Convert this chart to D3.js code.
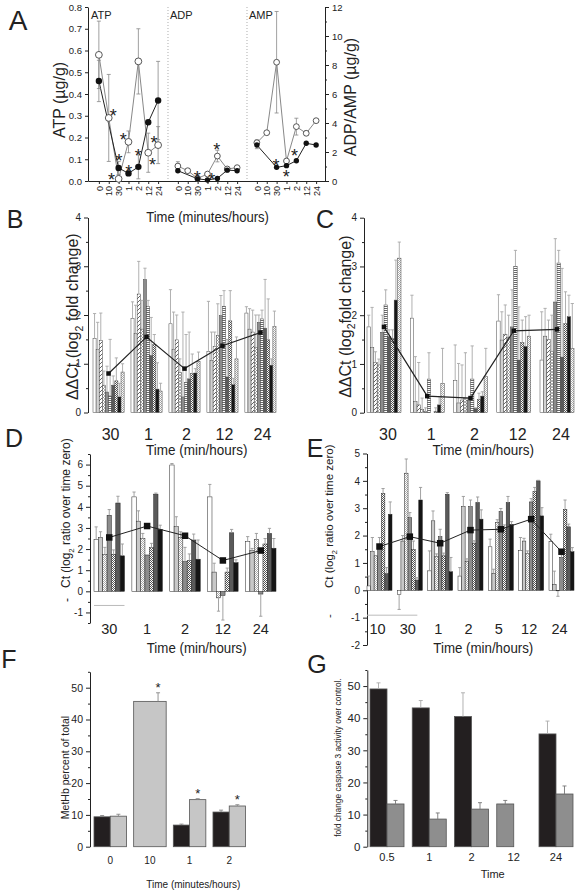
<!DOCTYPE html>
<html><head><meta charset="utf-8">
<script src="https://cdn.jsdelivr.net/npm/d3@7"></script>
<style>body{margin:0;background:#fff}svg{display:block}</style>
</head><body><script>
// ================= DATA =================
// Panel A
const aTimeLabels = ["0","10","30","1","2","12","24"];
const aSegmentNames = ["ATP","ADP","AMP"];
const atpOpen = [0.58,0.29,0.01,0.18,0.55,0.13,0.165];
const atpOpenErr = [0.155,0.2,0,0.05,0.15,0.09,0.085];
const atpFilled = [0.46,null,0.06,0.035,0.065,0.27,0.37];
const atpFilledErr = [0.095,0,0.03,0.01,0.055,0,0.18];
const adpOpen = [1.03,0.71,0.18,0.48,1.72,0.83,0.92];
const adpOpenErr = [0.3,0.12,0.05,0.1,0.4,0.05,0.1];
const adpFilled = [0.71,null,0.15,0.07,0.18,0.75,0.71];
const adpFilledErr = [0,0,0,0,0,0,0];
const ampOpen = [2.64,3.33,8.19,1.38,3.75,3.29,4.16];
const ampOpenErr = [0.2,0,3.5,0.1,0.58,0.15,0.1];
const ampFilled = [2.48,null,0.94,1.06,1.4,2.6,2.48];
const ampFilledErr = [0.25,0,0,0,0,0,0];
const atpStars = [[1.45,0.318],[2.47,0.206],[2.03,0.111],[1.29,0.023],[3.04,0.061],[3.99,0.134],[5.58,0.193],[5.44,0.093]];
const adpStars = [[1.97,0.48],[3.43,0.34],[3.94,2.41]];
const ampStars = [[1.95,1.33],[2.97,0.57],[3.81,2.02]];

// Panel B
const bCats = ["30","1","2","12","24"];
const bValues = [
  [1.52,1.29,1.48,0.56,0.42,0.34,0.56,0.65,0.32,0.83],
  [1.93,1.62,2.43,1.71,2.73,2.17,1.17,1.40,0.48,0.44],
  [1.82,1.29,1.49,0.82,0.32,0.62,0.69,0.80,0.81,1.05],
  [1.25,1.07,1.35,1.58,1.99,2.18,0.73,1.88,0.57,1.10],
  [2.04,1.71,1.65,1.33,1.85,1.92,1.73,1.49,0.97,1.76]];
const bErrors = [
  [0.51,0.56,0.56,0.29,0.53,1.16,0.19,0.47,0.28,0.17],
  [0.34,0.58,0.67,0.59,0.23,0.13,0.78,0.20,0.54,0.16],
  [0.70,0.77,0.51,0.28,1.74,0.98,0.96,0.40,0.09,0.19],
  [1.03,0.58,0.30,0.65,0.41,0.32,0.77,0.62,0.13,0.45],
  [0.13,0.42,0.45,0.67,0.15,0.18,1.00,0.84,0.13,0.32]];
const bMean = [0.80,1.55,0.90,1.37,1.64];

// Panel C
const cCats = ["30","1","2","12","24"];
const cValues = [
  [1.76,1.34,1.03,0.98,1.65,2.21,1.56,1.52,2.31,3.17],
  [1.94,0.23,0.16,0.07,0.02,0.69,0.00,0.03,0.16,0.60],
  [0.66,0.20,0.26,0.30,0.25,0.69,0.09,0.27,0.34,0.74],
  [1.88,1.49,1.61,1.55,1.76,3.00,1.08,1.44,1.36,1.57],
  [1.08,1.57,1.50,1.25,2.27,3.07,1.14,1.83,1.97,1.32]];
const cErrors = [
  [0.24,0.82,0.22,0.12,0.35,0.31,0.14,0.18,0.82,0.33],
  [0.47,0.92,0.87,0.23,0.08,0.54,0.00,0.07,0.17,0.72],
  [0.73,0.81,0.72,0.93,0.05,0.68,0.01,0.13,0.09,0.58],
  [0.54,0.58,0.60,0.45,0.76,0.33,1.09,0.46,0.61,0.43],
  [0.99,0.57,0.40,0.75,1.30,0.26,1.82,0.65,0.44,0.92]];
const cMean = [1.76,0.34,0.30,1.68,1.71];

// Panel D
const dCats = ["30","1","2","12","24"];
const dValues = [
  [2.46,2.55,1.75,3.60,1.75,4.18,1.68],
  [4.47,3.32,2.50,1.72,2.07,4.60,2.93],
  [5.98,3.06,2.55,1.41,1.46,2.43,1.52],
  [4.47,0.91,-0.31,-0.20,0.91,2.77,1.36],
  [2.35,1.93,2.46,-0.13,2.24,2.74,2.04]];
const dErrors = [
  [0.59,0.27,0.33,0.27,0.21,0.32,0.56],
  [0.23,0.49,0.24,0.00,0.20,0.05,0.20],
  [0.07,0.47,0.27,0.67,0.31,0.28,0.91],
  [0.59,0.42,0.63,1.16,0.19,0.16,0.13],
  [0.24,0.10,0.28,1.05,0.26,0.24,0.46]];
const dMean = [2.55,3.09,2.63,1.46,1.93];

// Panel E
const eCats = ["10","30","1","2","5","12","24"];
const eValues = [
  [0.16,1.41,1.26,1.52,3.54,0.61,2.78],
  [-0.15,1.80,4.28,2.66,1.50,0.37,3.30],
  [0.71,2.54,1.23,1.96,1.26,3.51,0.68],
  [0.52,3.06,1.05,3.06,1.71,3.21,2.60],
  [1.59,0.62,2.48,2.88,2.29,3.21,2.41],
  [1.46,1.80,1.34,3.23,3.61,4.00,2.72],
  [1.78,0.22,-0.02,1.20,2.96,2.32,1.41]];
const eErrors = [
  [0.36,0.52,0.00,0.41,0.18,0.22,0.45],
  [0.55,0.20,0.52,0.18,0.30,0.09,0.46],
  [0.73,0.36,0.10,0.27,0.10,0.06,0.52],
  [0.31,0.37,0.10,0.24,0.10,0.20,0.34],
  [0.28,0.15,0.10,0.11,0.10,0.22,0.10],
  [0.47,0.10,0.10,0.12,0.15,0.02,0.30],
  [0.27,0.48,0.20,0.10,0.34,0.10,0.15]];
const eMean = [1.60,1.96,1.72,2.20,2.23,2.60,1.41];

// Panel F
const fCats = ["0","10","1","2"];
const fBlack = [9.4,null,6.8,10.9];
const fBlackErr = [0.4,null,0.3,0.6];
const fGray = [9.6,45.7,14.8,12.8];
const fGrayErr = [0.6,2.7,0.3,0.4];
const fStars = [false,true,true,true];

// Panel G
const gCats = ["0.5","1","2","12","24"];
const gBlack = [49.1,43.2,40.5,null,35.1];
const gBlackErr = [1.9,2.3,7.4,null,4.0];
const gGray = [13.3,8.6,11.7,13.3,16.4];
const gGrayErr = [1.1,1.9,2.0,1.1,2.5];

// ================= DRAWING =================
const FONT = '"Liberation Sans", Arial, Helvetica, sans-serif';
const W = 576, H = 893;
const svg = d3.select("body").append("svg").attr("width", W).attr("height", H)
  .attr("font-family", FONT);

// patterns
const defs = svg.append("defs");
function pattern(id, w, h, build) {
  const p = defs.append("pattern").attr("id", id).attr("patternUnits", "userSpaceOnUse")
    .attr("width", w).attr("height", h);
  p.append("rect").attr("width", w).attr("height", h).attr("fill", "#fff");
  build(p);
}
pattern("pDiag", 4, 4, p => p.append("path").attr("d", "M0,4L4,0M-1,1L1,-1M3,5L5,3").attr("stroke", "#555").attr("stroke-width", 0.9));
pattern("pCross", 3, 3, p => p.append("path").attr("d", "M0,3L3,0M0,0L3,3").attr("stroke", "#777").attr("stroke-width", 0.6));
pattern("pHoriz", 4, 2, p => p.append("rect").attr("width", 4).attr("height", 1).attr("fill", "#6a6a6a"));
pattern("pCheck", 2, 2, p => { p.append("rect").attr("width", 1).attr("height", 1).attr("fill", "#555"); p.append("rect").attr("x", 1).attr("y", 1).attr("width", 1).attr("height", 1).attr("fill", "#555"); });
pattern("pCheckL", 2, 2, p => { p.append("rect").attr("width", 1).attr("height", 1).attr("fill", "#aaa"); p.append("rect").attr("x", 1).attr("y", 1).attr("width", 1).attr("height", 1).attr("fill", "#aaa"); });

const geneStyles = ["#fff","#d2d2d2","url(#pDiag)","url(#pCross)","#8c8c8c","url(#pHoriz)","#5a5a5a","url(#pCheck)","#151515","url(#pCheckL)"];
const ctStyles = ["#fff","#c8c8c8","url(#pCheckL)","#8c8c8c","url(#pCheck)","#5a5a5a","#151515"];

function styleAx(g, fs) {
  g.attr("font-family", FONT).attr("font-size", fs);
  g.select(".domain").attr("stroke", "#222");
  g.selectAll(".tick line").attr("stroke", "#222");
  g.selectAll(".tick text").attr("fill", "#222");
}
function minorAx(g) {
  g.select(".domain").remove();
  g.selectAll(".tick text").remove();
  g.selectAll(".tick line").attr("stroke", "#222");
}
function txt(x, y, s, fs, anchor, sx) {
  return svg.append("text").attr("transform", `translate(${x},${y}) scale(${sx || 1},1)`).attr("dy", "0.35em")
    .attr("text-anchor", anchor || "middle").attr("font-size", fs).attr("fill", "#222").text(s);
}
function rotLabel(x, y, anchor, fs, pre, sub, post) {
  const t = svg.append("text").attr("transform", `translate(${x},${y}) rotate(-90)`)
    .attr("text-anchor", anchor).attr("font-size", fs).attr("fill", "#222").attr("dy", "0.35em");
  t.append("tspan").text(pre);
  if (sub) {
    t.append("tspan").attr("font-size", fs * 0.65).attr("dy", fs * 0.3).text(sub);
    t.append("tspan").attr("dy", -fs * 0.3).text(post);
  }
  return t;
}
function star(g, x, y, fs) {
  g.append("text").attr("x", x).attr("y", y).attr("dy", 0.57 * fs).attr("text-anchor", "middle")
    .attr("font-size", fs).attr("fill", "#222").text("*");
}

// panel letters
[["A",18,20,28],["B",15,219,25],["C",325,219,25],["D",14,438,25],["E",315,448,25],["F",9,659,25],["G",317,664,25]]
  .forEach(([l,x,y,fs]) => txt(x, y, l, fs));

// ---------- Panel A ----------
(function () {
  const g = svg.append("g");
  const xA = d3.scaleLinear().domain([-1.1, 22.9]).range([88, 325]);
  const yA = d3.scaleLinear().domain([0, 0.8]).range([181, 7]);
  const yA2 = d3.scaleLinear().domain([0, 12]).range([181, 7]);
  g.append("g").attr("transform", "translate(88,0)")
    .call(d3.axisLeft(yA).tickValues(d3.range(0, 9).map(d => d / 10)).tickFormat(d3.format(".1f")).tickSize(3).tickSizeOuter(0))
    .call(styleAx, 9.5);
  g.append("g").attr("transform", "translate(325,0)")
    .call(d3.axisRight(yA2).tickValues(d3.range(0, 13, 2)).tickSize(4).tickSizeOuter(0))
    .call(styleAx, 9.5);
  g.append("g").attr("transform", "translate(325,0)")
    .call(d3.axisRight(yA2).tickValues(d3.range(1, 12, 2)).tickSize(2)).call(minorAx);
  const idx = [];
  [0, 1, 2].forEach(k => aTimeLabels.forEach((_, i) => idx.push(k * 8 + i)));
  const bx = g.append("g").attr("transform", "translate(0,181)")
    .call(d3.axisBottom(xA).tickValues(idx).tickFormat(i => aTimeLabels[i % 8]).tickSize(3).tickSizeOuter(0))
    .call(styleAx, 9);
  bx.selectAll(".tick text").attr("transform", "rotate(-90)").attr("text-anchor", "end")
    .attr("x", -5).attr("y", 0).attr("dy", "0.35em");
  [7, 15].forEach(s => g.append("line").attr("x1", xA(s)).attr("x2", xA(s)).attr("y1", 7).attr("y2", 181)
    .attr("stroke", "#999").attr("stroke-width", 0.8).attr("stroke-dasharray", "1,2"));
  aSegmentNames.forEach((n, k) => g.append("text").attr("x", xA(k * 8 - 0.8)).attr("y", 19)
    .attr("font-size", 11).attr("fill", "#222").text(n));

  const segs = [
    {open: atpOpen, openErr: atpOpenErr, filled: atpFilled, filledErr: atpFilledErr, y: yA, stars: atpStars},
    {open: adpOpen, openErr: adpOpenErr, filled: adpFilled, filledErr: adpFilledErr, y: yA2, stars: adpStars},
    {open: ampOpen, openErr: ampOpenErr, filled: ampFilled, filledErr: ampFilledErr, y: yA2, stars: ampStars}];
  segs.forEach((s, k) => {
    const X = i => xA(k * 8 + i);
    const pts = arr => arr.map((v, i) => [i, v]).filter(p => p[1] != null);
    const line = d3.line().x(p => X(p[0])).y(p => s.y(p[1]));
    g.append("path").attr("d", line(pts(s.open))).attr("fill", "none").attr("stroke", "#888").attr("stroke-width", 1);
    g.append("path").attr("d", line(pts(s.filled))).attr("fill", "none").attr("stroke", "#222").attr("stroke-width", 1);
    const errs = (vals, es) => vals.forEach((v, i) => {
      const e = es[i];
      if (v == null || !e) return;
      const x = X(i), y1 = s.y(Math.max(0, v - e)), y2 = s.y(v + e);
      g.append("line").attr("x1", x).attr("x2", x).attr("y1", y1).attr("y2", y2).attr("stroke", "#888").attr("stroke-width", 0.8);
      [y1, y2].forEach(yy => g.append("line").attr("x1", x - 2).attr("x2", x + 2).attr("y1", yy).attr("y2", yy).attr("stroke", "#888").attr("stroke-width", 0.8));
    });
    errs(s.open, s.openErr);
    errs(s.filled, s.filledErr);
    const r = k === 0 ? 3.4 : 2.9;
    pts(s.open).forEach(p => g.append("circle").attr("cx", X(p[0])).attr("cy", s.y(p[1])).attr("r", r)
      .attr("fill", "#fff").attr("stroke", "#444").attr("stroke-width", 0.9));
    pts(s.filled).forEach(p => g.append("circle").attr("cx", X(p[0])).attr("cy", s.y(p[1])).attr("r", r - 0.2).attr("fill", "#111"));
    s.stars.forEach(p => star(g, X(p[0]), s.y(p[1]), 18));
  });
  rotLabel(59, 100, "middle", 16, "ATP (µg/g)");
  rotLabel(350, 97, "middle", 16, "ADP/AMP (µg/g)");
  txt(207.5, 217, "Time (minutes/hours)", 15, "middle", 0.87);
})();

// ---------- grouped bar panels (B-E) ----------
function barPanel(cfg) {
  const g = svg.append("g");
  const x0 = d3.scaleBand().domain(cfg.cats).range(cfg.xr).paddingInner(cfg.pad).paddingOuter(0);
  const ns = cfg.values[0].length;
  const x1 = d3.scaleBand().domain(d3.range(ns)).range([0, x0.bandwidth()]);
  const y = d3.scaleLinear().domain(cfg.yd).range(cfg.yr);
  g.append("g").attr("transform", `translate(${cfg.axisX},0)`)
    .call(d3.axisLeft(y).tickValues(cfg.major).tickFormat(d => String(d)).tickSize(4).tickSizeOuter(0))
    .call(styleAx, cfg.tickFs);
  g.append("g").attr("transform", `translate(${cfg.axisX},0)`)
    .call(d3.axisLeft(y).tickValues(cfg.minor).tickSize(2)).call(minorAx);
  const bw = x1.bandwidth();
  cfg.cats.forEach((c, gi) => cfg.values[gi].forEach((v, si) => {
    g.append("rect").attr("x", x0(c) + x1(si)).attr("y", y(Math.max(0, v)))
      .attr("width", bw).attr("height", Math.abs(y(v) - y(0)))
      .attr("fill", cfg.styles[si]).attr("stroke", cfg.stroke).attr("stroke-width", 0.5);
  }));
  cfg.cats.forEach((c, gi) => cfg.values[gi].forEach((v, si) => {
    const e = cfg.errors[gi][si];
    if (!e) return;
    const dir = v < 0 ? -1 : 1;
    const cx = x0(c) + x1(si) + bw / 2;
    const yt = y(v + dir * e);
    g.append("line").attr("x1", cx).attr("x2", cx).attr("y1", y(v)).attr("y2", yt).attr("stroke", cfg.errColor).attr("stroke-width", 0.9);
    g.append("line").attr("x1", cx - 1.6).attr("x2", cx + 1.6).attr("y1", yt).attr("y2", yt).attr("stroke", cfg.errColor).attr("stroke-width", 0.9);
  }));
  const cxs = cfg.cats.map(c => x0(c) + x0.bandwidth() / 2);
  g.append("path").attr("d", d3.line().x((d, i) => cxs[i]).y(d => y(d))(cfg.mean))
    .attr("fill", "none").attr("stroke", "#222").attr("stroke-width", cfg.lineW);
  cfg.mean.forEach((m, i) => g.append("rect").attr("x", cxs[i] - cfg.sq / 2).attr("y", y(m) - cfg.sq / 2)
    .attr("width", cfg.sq).attr("height", cfg.sq).attr("fill", "#111"));
  cfg.cats.forEach((c, i) => txt(cxs[i] + (cfg.labelShift || 0), cfg.labelY, c, cfg.labelFs));
  txt(cfg.titleX, cfg.titleY, "Time (min/hours)", cfg.titleFs, "middle", cfg.titleSx);
  return {x0, y, g};
}

barPanel({cats: bCats, values: bValues, errors: bErrors, mean: bMean, styles: geneStyles,
  xr: [93, 276], pad: 0.18, yd: [0, 4], yr: [412.5, 217.5], axisX: 88, major: [0,1,2,3,4], minor: [0.5,1.5,2.5,3.5],
  tickFs: 10, stroke: "#444", errColor: "#a8a8a8", lineW: 1.2, sq: 4.5, labelY: 434, labelFs: 16, labelShift: 2,
  titleX: 196.7, titleY: 450, titleFs: 15, titleSx: 0.9});
rotLabel(72.7, 316.7, "middle", 16, "ΔΔCt (log", "2", " fold change)");

barPanel({cats: cCats, values: cValues, errors: cErrors, mean: cMean, styles: geneStyles,
  xr: [367, 574], pad: 0.214, yd: [0, 4], yr: [412.7, 217.7], axisX: 364, major: [0,1,2,3,4], minor: [0.5,1.5,2.5,3.5],
  tickFs: 10, stroke: "#444", errColor: "#a8a8a8", lineW: 1.2, sq: 4.5, labelY: 434, labelFs: 16, labelShift: 4,
  titleX: 483.3, titleY: 450, titleFs: 15, titleSx: 0.9});
rotLabel(345, 316.7, "middle", 16, "ΔΔCt (log", "2", "fold change)");

const pd = barPanel({cats: dCats, values: dValues, errors: dErrors, mean: dMean, styles: ctStyles,
  xr: [94, 276], pad: 0.195, yd: [-1.5, 6.5], yr: [623, 454], axisX: 90, major: d3.range(-1, 7), minor: d3.range(-1.5, 7, 1),
  tickFs: 10, stroke: "#222", errColor: "#999", lineW: 1, sq: 6.5, labelY: 629.3, labelFs: 14.5, labelShift: 0,
  titleX: 196.7, titleY: 648.3, titleFs: 14, titleSx: 0.95});
pd.g.append("line").attr("x1", pd.x0(dCats[0])).attr("x2", pd.x0(dCats[0]) + pd.x0.bandwidth())
  .attr("y1", pd.y(-0.67)).attr("y2", pd.y(-0.67)).attr("stroke", "#bbb").attr("stroke-width", 1);
rotLabel(66, 588, "start", 12, "Ct (log", "2", " ratio over time zero)");
rotLabel(67, 600, "middle", 12, "-");

const pe = barPanel({cats: eCats, values: eValues, errors: eErrors, mean: eMean, styles: ctStyles,
  xr: [367, 574], pad: 0.176, yd: [-2, 5], yr: [645, 453.5], axisX: 367, major: d3.range(-2, 6), minor: d3.range(-1.5, 5, 1),
  tickFs: 10, stroke: "#222", errColor: "#999", lineW: 1, sq: 6.5, labelY: 629.3, labelFs: 14.5, labelShift: -2,
  titleX: 483.3, titleY: 648.3, titleFs: 14, titleSx: 0.95});
pe.g.append("line").attr("x1", pe.x0(eCats[0])).attr("x2", pe.x0(eCats[1]) + pe.x0.bandwidth() * 0.8)
  .attr("y1", pe.y(-0.91)).attr("y2", pe.y(-0.91)).attr("stroke", "#bbb").attr("stroke-width", 1);
rotLabel(329.3, 588, "start", 11.5, "Ct (log", "2", " ratio over time zero)");
rotLabel(329.3, 616, "middle", 11.5, "-");

// ---------- paired bar panels (F, G) ----------
function pairPanel(cfg) {
  const g = svg.append("g");
  const x0 = d3.scaleBand().domain(cfg.cats).range(cfg.xr).paddingInner(cfg.pad).paddingOuter(0);
  const x1 = d3.scaleBand().domain(["black", "gray"]).range([0, x0.bandwidth()]);
  const y = d3.scaleLinear().domain([0, 55]).range(cfg.yr);
  g.append("g").attr("transform", `translate(${cfg.axisX},0)`)
    .call(d3.axisLeft(y).tickValues(d3.range(0, 51, 10)).tickSize(4).tickSizeOuter(0)).call(styleAx, cfg.tickFs);
  g.append("g").attr("transform", `translate(${cfg.axisX},0)`)
    .call(d3.axisLeft(y).tickValues(d3.range(5, 56, 10)).tickSize(2)).call(minorAx);
  const bw = x1.bandwidth();
  const errBar = (cx, v, e, col) => {
    if (!e) return;
    g.append("line").attr("x1", cx).attr("x2", cx).attr("y1", y(v)).attr("y2", y(v + e)).attr("stroke", col).attr("stroke-width", 0.9);
    g.append("line").attr("x1", cx - 2).attr("x2", cx + 2).attr("y1", y(v + e)).attr("y2", y(v + e)).attr("stroke", col).attr("stroke-width", 0.9);
  };
  cfg.cats.forEach((c, i) => {
    const bv = cfg.black[i], gv = cfg.gray[i];
    if (bv != null) {
      g.append("rect").attr("x", x0(c)).attr("y", y(bv)).attr("width", bw).attr("height", y(0) - y(bv))
        .attr("fill", "#231f20").attr("stroke", "#555").attr("stroke-width", 0.8);
      errBar(x0(c) + bw / 2, bv, cfg.blackErr[i], cfg.blackErrColor);
    }
    let gx = x0(c) + x1("gray"), gw = bw, ecx = x0(c) + x1("gray") + bw / 2;
    if (bv == null && cfg.missing === "full") { gx = x0(c); gw = x0.bandwidth(); }
    if (bv == null && cfg.missing === "left") { gx = x0(c); ecx = x0(c) + bw / 2; }
    g.append("rect").attr("x", gx).attr("y", y(gv)).attr("width", gw).attr("height", y(0) - y(gv))
      .attr("fill", cfg.grayFill).attr("stroke", "#555").attr("stroke-width", 0.8);
    errBar(ecx, gv, cfg.grayErr[i], cfg.grayErrColor);
    if (cfg.stars && cfg.stars[i]) star(g, ecx, y(gv + cfg.grayErr[i]) - 8, 13);
    txt(x0(c) + x0.bandwidth() / 2, cfg.labelY, c, cfg.labelFs);
  });
}

pairPanel({cats: fCats, black: fBlack, blackErr: fBlackErr, gray: fGray, grayErr: fGrayErr, stars: fStars,
  xr: [94, 245.5], pad: 0.18, yr: [846.7, 671.8], axisX: 90, tickFs: 10.5, grayFill: "#c6c6c6",
  blackErrColor: "#888", grayErrColor: "#888", missing: "full", labelY: 860, labelFs: 10});
rotLabel(65, 767.5, "middle", 10.5, "MetHb percent of total");
txt(193.3, 884, "Time (minutes/hours)", 10);

pairPanel({cats: gCats, black: gBlack, blackErr: gBlackErr, gray: gGray, grayErr: gGrayErr,
  xr: [370, 573], pad: 0.195, yr: [846.7, 670], axisX: 367.3, tickFs: 11.5, grayFill: "#8e8e8e",
  blackErrColor: "#aaa", grayErrColor: "#777", missing: "left", labelY: 857.3, labelFs: 11});
rotLabel(338.3, 757.5, "middle", 8.3, "fold change caspase 3 activity over control.");
txt(492.7, 874, "Time", 11);
</script></body></html>
